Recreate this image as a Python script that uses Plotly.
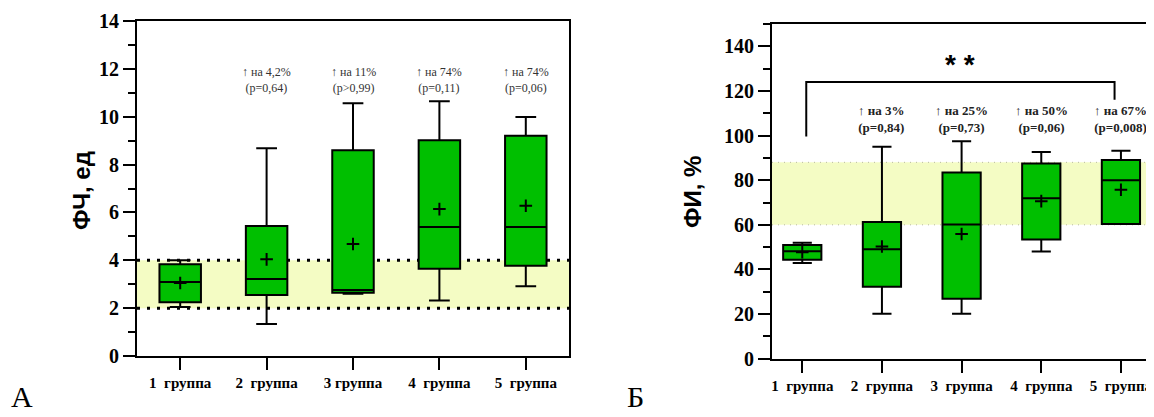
import plotly.graph_objects as go

# ---------------- data ----------------
groups = ["1\u00a0\u00a0группа", "2\u00a0\u00a0группа", "3 группа", "4\u00a0\u00a0группа", "5\u00a0\u00a0группа"]
groups_b = ["1\u00a0\u00a0группа", "2\u00a0\u00a0группа", "3\u00a0\u00a0группа", "4\u00a0\u00a0группа", "5\u00a0\u00a0группа"]
pos = [0, 1, 2, 3, 4]

# Panel A: ФЧ, ед
a_low = [2.05, 1.34, 2.60, 2.32, 2.92]
a_q1 = [2.25, 2.55, 2.64, 3.65, 3.77]
a_med = [3.09, 3.22, 2.76, 5.39, 5.39]
a_q3 = [3.83, 5.43, 8.60, 9.02, 9.20]
a_high = [4.00, 8.68, 10.56, 10.65, 9.99]
a_mean = [3.05, 4.04, 4.68, 6.14, 6.28]
a_norm = [2, 4]
a_notes = ["↑ на 4,2%<br>(p=0,64)", "↑ на 11%<br>(p>0,99)", "↑ на 74%<br>(p=0,11)", "↑ на 74%<br>(p=0,06)"]
a_note_y = 11.55

# Panel Б: ФИ, %
b_low = [42.9, 20.2, 20.2, 48.0, 60.4]
b_q1 = [44.3, 32.2, 26.9, 53.4, 60.4]
b_med = [48.2, 49.1, 60.1, 71.9, 80.0]
b_q3 = [51.0, 61.3, 83.5, 87.5, 89.1]
b_high = [52.0, 95.0, 97.4, 92.6, 93.2]
b_mean = [47.7, 50.3, 55.9, 70.6, 75.7]
b_norm = [60, 88]
b_notes = ["↑ на 3%<br>(p=0,84)", "↑ на 25%<br>(p=0,73)", "↑ на 50%<br>(p=0,06)", "↑ на 67%<br>(p=0,008)"]
b_note_y = 107.5
bracket_x = [0.05, 0.05, 3.92, 3.92]
bracket_y = [99.6, 124, 124, 116]
star_y = 132

# page body has an 8px margin; place the figure so that it lands on reference pixels
OFF = 8
W, H = 1154 - OFF, 417 - OFF
def px_x(p):
    return (p - OFF) / W
def px_y(p):
    return 1 - (p - OFF) / H

GREEN = "#00BF00"
BAND = "#F4FCC4"
SERIF = "Liberation Serif"
SANS = "Liberation Sans"

fig = go.Figure()

fig.add_trace(go.Box(
    x=pos, q1=a_q1, median=a_med, q3=a_q3, lowerfence=a_low, upperfence=a_high,
    width=0.48, whiskerwidth=0.5, fillcolor=GREEN, line=dict(color="black", width=2),
    boxpoints=False, xaxis="x", yaxis="y", showlegend=False, hoverinfo="skip"))
fig.add_trace(go.Scatter(
    x=pos, y=a_mean, mode="markers", xaxis="x", yaxis="y", showlegend=False,
    marker=dict(symbol="cross-thin", size=9, line=dict(color="black", width=2))))

fig.add_trace(go.Box(
    x=pos, q1=b_q1, median=b_med, q3=b_q3, lowerfence=b_low, upperfence=b_high,
    width=0.48, whiskerwidth=0.5, fillcolor=GREEN, line=dict(color="black", width=2),
    boxpoints=False, xaxis="x2", yaxis="y2", showlegend=False, hoverinfo="skip"))
fig.add_trace(go.Scatter(
    x=pos, y=b_mean, mode="markers", xaxis="x2", yaxis="y2", showlegend=False,
    marker=dict(symbol="cross-thin", size=9, line=dict(color="black", width=2))))
fig.add_trace(go.Scatter(
    x=bracket_x, y=bracket_y, mode="lines", xaxis="x2", yaxis="y2", showlegend=False,
    line=dict(color="black", width=2), hoverinfo="skip"))

shapes = [
    dict(type="rect", xref="x", yref="y", x0=-0.5, x1=4.5, y0=a_norm[0], y1=a_norm[1],
         fillcolor=BAND, line=dict(width=0), layer="below"),
    dict(type="rect", xref="x2", yref="y2", x0=-0.38, x1=4.39, y0=b_norm[0], y1=b_norm[1],
         fillcolor=BAND, line=dict(width=0), layer="below"),
]
for v in a_norm:
    shapes.append(dict(type="line", xref="x", yref="y", x0=-0.5, x1=4.5, y0=v, y1=v,
                       line=dict(color="black", width=3, dash="3px,7px"), layer="below"))
for v in b_norm:
    shapes.append(dict(type="line", xref="x2", yref="y2", x0=-0.38, x1=4.39, y0=v, y1=v,
                       line=dict(color="#B8B8A0", width=1, dash="1px,5px"), layer="below"))

annotations = []
for i, t in enumerate(a_notes):
    annotations.append(dict(x=pos[i + 1], y=a_note_y, xref="x", yref="y", text=t, showarrow=False,
                            xanchor="center", yanchor="middle",
                            font=dict(family=SERIF, size=12, color="#333333"), align="center"))
for i, t in enumerate(b_notes):
    annotations.append(dict(x=pos[i + 1], y=b_note_y, xref="x2", yref="y2", text=t, showarrow=False,
                            xanchor="center", yanchor="middle",
                            font=dict(family=SERIF, size=13, color="#222222", weight="bold"), align="center"))
annotations.append(dict(x=(bracket_x[0] + bracket_x[-1]) / 2, y=star_y, xref="x2", yref="y2", text="* *",
                        xanchor="center", yanchor="middle",
                        showarrow=False, font=dict(family=SANS, size=28, color="black", weight="bold")))
annotations.append(dict(x=px_x(81), y=px_y(191), xref="paper", yref="paper", text="ФЧ, ед", textangle=-90,
                        xanchor="center", yanchor="middle",
                        showarrow=False, font=dict(family=SANS, size=24, color="black", weight="bold")))
annotations.append(dict(x=px_x(692), y=px_y(192), xref="paper", yref="paper", text="ФИ, %", textangle=-90,
                        xanchor="center", yanchor="middle",
                        showarrow=False, font=dict(family=SANS, size=24, color="black", weight="bold")))
annotations.append(dict(x=px_x(22), y=px_y(396), xref="paper", yref="paper", text="А",
                        xanchor="center", yanchor="middle",
                        showarrow=False, font=dict(family=SERIF, size=30, color="black")))
annotations.append(dict(x=px_x(635), y=px_y(396), xref="paper", yref="paper", text="Б",
                        xanchor="center", yanchor="middle",
                        showarrow=False, font=dict(family=SERIF, size=30, color="black")))

tickfont = dict(family=SERIF, size=20, color="black", weight="bold")
xtickfont = dict(family=SERIF, size=15, color="black", weight="bold")

common = dict(ticks="outside", ticklen=12, tickwidth=2, tickcolor="black",
              showline=True, linewidth=2, linecolor="black", mirror=True,
              showgrid=False, zeroline=False, automargin=False)

fig.update_layout(
    template="none",
    width=W, height=H, margin=dict(l=0, r=0, t=0, b=0, pad=0, autoexpand=False),
    paper_bgcolor="white", plot_bgcolor="white",
    shapes=shapes, annotations=annotations, showlegend=False,
    xaxis=dict(domain=[px_x(137), px_x(569)], range=[-0.5, 4.5], tickvals=pos, ticktext=groups,
               tickfont=xtickfont, anchor="y", **common),
    yaxis=dict(domain=[px_y(356), px_y(21)], range=[0, 14], dtick=2, tick0=0, tickfont=tickfont,
               minor=dict(dtick=1, ticks="outside", ticklen=7, tickwidth=2, tickcolor="black", showgrid=False),
               anchor="x", **common),
    xaxis2=dict(domain=[px_x(772), px_x(1152)], range=[-0.38, 4.39], tickvals=pos, ticktext=groups_b,
                tickfont=xtickfont, anchor="y2", **common),
    yaxis2=dict(domain=[px_y(358.7), px_y(24)], range=[0, 150], dtick=20, tick0=0, tickfont=tickfont,
                minor=dict(dtick=10, ticks="outside", ticklen=7, tickwidth=2, tickcolor="black", showgrid=False),
                anchor="x2", **common),
)

fig.write_html("out.html")
